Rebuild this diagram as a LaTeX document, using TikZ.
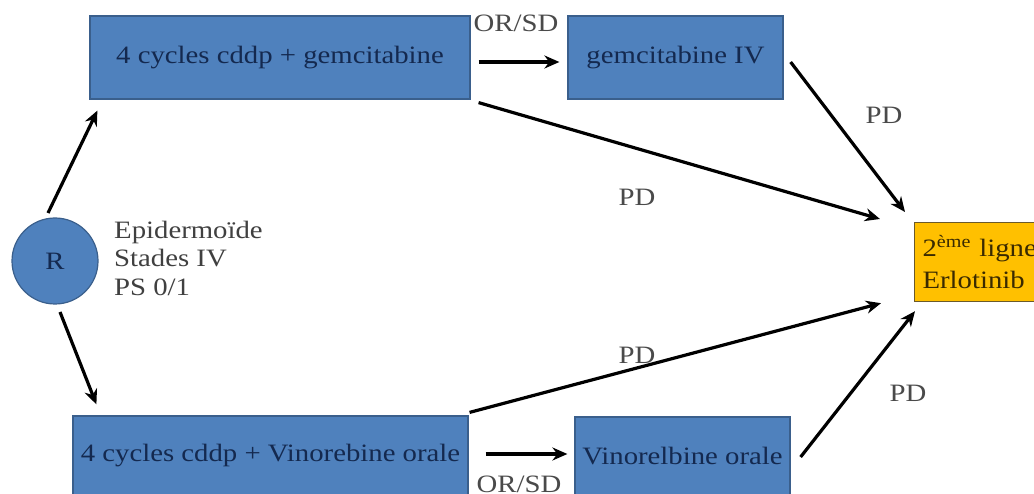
\documentclass[tikz,border=0pt]{standalone}
\usepackage{fontspec}
\setmainfont{Liberation Serif}[FakeStretch=1.15]
\usetikzlibrary{calc,arrows.meta}
\definecolor{boxblue}{HTML}{4F81BD}
\definecolor{boxedge}{HTML}{3A5F8C}
\definecolor{boxtext}{HTML}{14294F}
\definecolor{yel}{HTML}{FFC000}
\definecolor{yeledge}{HTML}{6B5A2A}
\definecolor{yeltext}{HTML}{3A2A00}
\definecolor{lbl}{HTML}{4A4A4A}
\tikzset{
  bluebox/.style={draw=boxedge, line width=1.2pt, fill=boxblue, text=boxtext, inner sep=0pt,
    font=\fontsize{25}{28.5}\selectfont},
  yelbox/.style={draw=yeledge, line width=1.2pt, fill=yel, text=yeltext, inner xsep=8pt, inner ysep=0pt,
    align=left, font=\fontsize{25}{32}\selectfont},
  lab/.style={text=lbl, inner sep=0pt, font=\fontsize{25}{28.5}\selectfont},
  arr/.style={draw=black, line width=3.2pt, -{Stealth[length=15pt,width=13pt]}},
}
\begin{document}
\begin{tikzpicture}[x=1pt,y=-1pt]
\useasboundingbox (0,0) rectangle (1034,494);
\fill[white] (0,0) rectangle (1034,494);
\clip (0,0) rectangle (1034,494);

% nodes
\node[circle, draw=boxedge, line width=1.2pt, fill=boxblue, text=boxtext, minimum size=86pt, inner sep=0pt,
  font=\fontsize{25}{28.5}\selectfont] (R) at (55,261) {R};
\node[lab, anchor=west, align=left, text=black!75] (T) at (114,258) {Epidermoïde\\Stades IV\\PS 0/1};

\node[bluebox, minimum width=380pt, minimum height=83pt] (A) at (280,57.5) {4 cycles cddp + gemcitabine};
\node[bluebox, minimum width=215pt, minimum height=83pt] (B) at (675.5,57.5) {gemcitabine IV};
\node[bluebox, minimum width=395pt, minimum height=80pt] (C) at (270.5,456) {4 cycles cddp + Vinorebine orale};
\node[bluebox, minimum width=215pt, minimum height=79pt] (D) at (682.5,456.5) {Vinorelbine orale};
\node[yelbox, anchor=north west, minimum width=150pt, minimum height=79pt, text width=134pt] (E) at (914,222)
  {2\textsuperscript{ème} ligne\\Erlotinib};

% connectors
\draw[arr] ($(R.center)+(-7,-48)$) -- ($(A.south west)+(8,11)$);
\draw[arr] ($(R.center)+(5,51)$) -- ($(C.north west)+(24,-11)$);
\draw[arr] ($(A.east)+(8,4.5)$) -- ($(B.west)+(-8,4.5)$);
\draw[arr] ($(A.south east)+(8,3)$) -- ($(E.north west)+(-34,-3)$);
\draw[arr] ($(B.east)+(7,4.5)$) -- ($(E.north west)+(-9,-10)$);
\draw[arr] ($(C.north east)+(1,-3)$) -- ($(E.south west)+(-33,1)$);
\draw[arr] ($(D.east)+(10,0.5)$) -- ($(E.south west)+(1,9)$);
\draw[arr] ($(C.east)+(17,-2)$) -- ($(D.west)+(-7,-2.5)$);

% labels
\node[lab] (l1) at (516,23) {OR/SD};
\node[lab] (l2) at (519,484) {OR/SD};
\node[lab] (l3) at (637,197) {PD};
\node[lab] (l4) at (884,115) {PD};
\node[lab] (l5) at (637,355) {PD};
\node[lab] (l6) at (908,393) {PD};
\end{tikzpicture}
\end{document}
